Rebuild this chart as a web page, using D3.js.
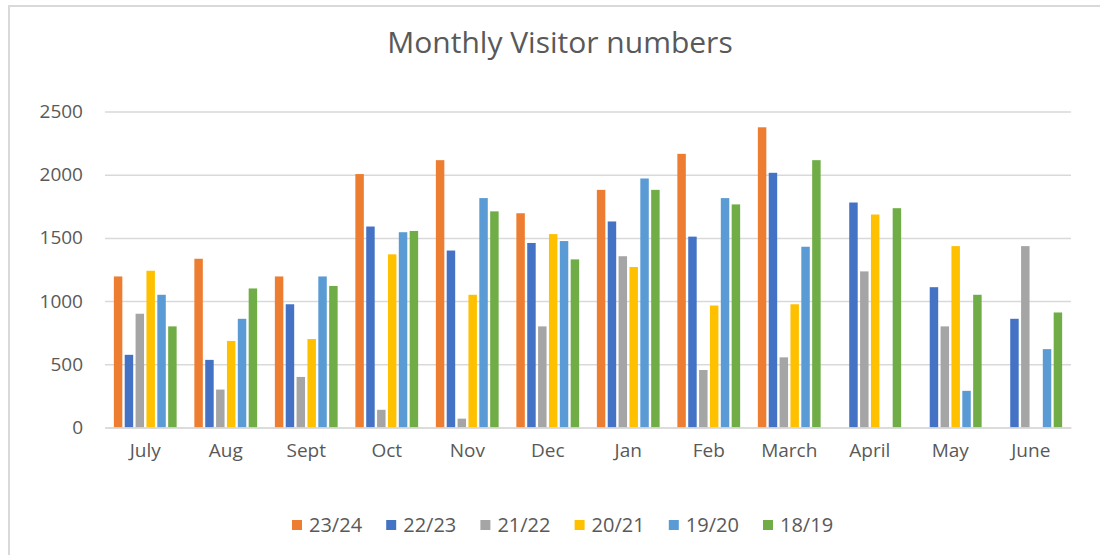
<!DOCTYPE html>
<html>
<head>
<meta charset="utf-8">
<script src="https://cdn.jsdelivr.net/npm/d3@7"></script>
<style>
  html, body { margin: 0; padding: 0; background: #fff; }
  svg { display: block; font-family: 'Open Sans', sans-serif; }
</style>
</head>
<body>
<svg id="chart" width="1100" height="555"></svg>
<script>
const months = ['July', 'Aug', 'Sept', 'Oct', 'Nov', 'Dec', 'Jan', 'Feb', 'March', 'April', 'May', 'June'];
const seasons = ['23/24', '22/23', '21/22', '20/21', '19/20', '18/19'];
const colors = ['#ED7D31', '#4472C4', '#A5A5A5', '#FFC000', '#5B9BD5', '#70AD47'];
const yTicks = [0, 500, 1000, 1500, 2000, 2500];

// one array per season, null where no bar was drawn
const v2324 = [1195, 1335, 1195, 2005, 2115, 1695, 1880, 2165, 2375, null, null, null];
const v2223 = [575, 535, 975, 1590, 1400, 1460, 1630, 1510, 2015, 1780, 1110, 860];
const v2122 = [900, 300, 400, 140, 70, 800, 1355, 455, 555, 1235, 800, 1435];
const v2021 = [1240, 685, 700, 1370, 1050, 1530, 1270, 965, 975, 1685, 1435, null];
const v1920 = [1050, 860, 1195, 1545, 1815, 1475, 1970, 1815, 1430, null, 290, 620];
const v1819 = [800, 1100, 1120, 1555, 1710, 1330, 1880, 1765, 2115, 1735, 1050, 910];

const series = [v2324, v2223, v2122, v2021, v1920, v1819];

const svg = d3.select('#chart'),
      textColor = '#595959',
      gridColor = '#d9d9d9',
      margin = { top: 111.5, right: 29, bottom: 127.5, left: 105 },
      width = +svg.attr('width') - margin.left - margin.right,
      height = +svg.attr('height') - margin.top - margin.bottom;

// chart frame (only top and left edges are inside the picture)
svg.append('path')
  .attr('d', 'M9,555V6H1100')
  .attr('fill', 'none')
  .attr('stroke', gridColor)
  .attr('stroke-width', 2);

svg.append('text')
  .attr('x', 560)
  .attr('y', 53)
  .attr('text-anchor', 'middle')
  .attr('font-size', 30)
  .attr('fill', textColor)
  .text('Monthly Visitor numbers');

const g = svg.append('g').attr('transform', `translate(${margin.left}, ${margin.top})`);

const x0 = d3.scaleBand()
  .domain(months)
  .range([0, width])
  .paddingInner(0.22)
  .paddingOuter(0.11);

const x1 = d3.scaleBand()
  .domain(seasons)
  .range([0, x0.bandwidth()])
  .paddingInner(0.22);

const y = d3.scaleLinear()
  .domain([0, 2500])
  .range([height, 0]);

// gridlines + y labels
const yAxis = g.append('g')
  .call(d3.axisLeft(y).tickValues(yTicks).tickFormat(d3.format('d')).tickSize(-width).tickPadding(22));
yAxis.select('.domain').remove();
yAxis.selectAll('.tick line')
  .attr('stroke', gridColor)
  .attr('stroke-width', 1.5);
yAxis.selectAll('.tick text')
  .attr('fill', textColor)
  .attr('font-size', 19)
  .attr('font-family', "'Open Sans', sans-serif");

// bars
g.append('g')
  .selectAll('g')
  .data(months)
  .enter().append('g')
  .attr('transform', (d) => `translate(${x0(d)}, 0)`)
  .selectAll('rect')
  .data((d, i) => seasons.map((s, k) => ({ season: s, k, value: series[k][i] })))
  .enter().filter((d) => d.value !== null).append('rect')
  .attr('x', (d) => x1(d.season))
  .attr('y', (d) => y(d.value))
  .attr('width', x1.bandwidth())
  .attr('height', (d) => y(0) - y(d.value))
  .attr('fill', (d) => colors[d.k]);

// x axis
const xAxis = g.append('g')
  .attr('transform', `translate(0, ${height})`)
  .call(d3.axisBottom(x0).tickSize(0).tickPadding(16));
xAxis.select('.domain')
  .attr('stroke', gridColor)
  .attr('stroke-width', 1.5);
xAxis.selectAll('.tick text')
  .attr('fill', textColor)
  .attr('font-size', 19)
  .attr('font-family', "'Open Sans', sans-serif");

// legend
const legendStep = 94.2,
      legendX = 292,
      legendY = 525;

const legend = svg.append('g')
  .selectAll('g')
  .data(seasons)
  .enter().append('g')
  .attr('transform', (d, i) => `translate(${legendX + i * legendStep}, ${legendY})`);

legend.append('rect')
  .attr('x', 0)
  .attr('y', -5)
  .attr('width', 10)
  .attr('height', 10)
  .attr('fill', (d, i) => colors[i]);

legend.append('text')
  .attr('x', 17)
  .attr('y', 0)
  .attr('dy', '0.35em')
  .attr('font-size', 20)
  .attr('fill', textColor)
  .text((d) => d);
</script>
</body>
</html>
